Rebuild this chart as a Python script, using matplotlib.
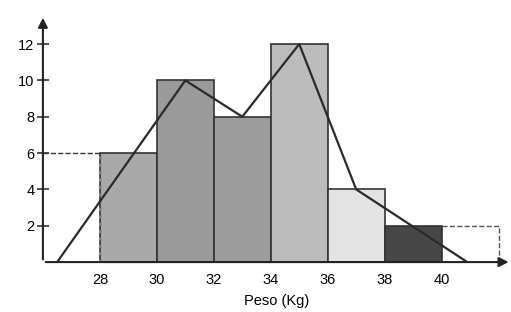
import numpy as np
import matplotlib.pyplot as plt
import matplotlib.patches as patches

plt.rcParams['font.family'] = ['Liberation Sans', 'DejaVu Sans']

# class limits and frequencies
edges = [28, 30, 32, 34, 36, 38, 40]
freq = [6, 10, 8, 12, 4, 2]
bar_colors = ['#a9a9a9', '#9a9a9a', '#9c9c9c', '#bcbcbc', '#e3e3e3', '#474747']
tick_labels = ['28', '30', '32', '34', '36', '38', '40']

# frequency polygon vertices
poly_x = [26.5, 31, 33, 35, 37, 40.9]
poly_y = [0, 10, 8, 12, 4, 0]

fig = plt.figure(figsize=(5.11, 3.12), dpi=100)
ax = fig.add_axes([0.084, 0.16, 0.914, 0.792])
ax.set_xlim(26, 42.4)
ax.set_ylim(0, 13.6)

for s in ax.spines.values():
    s.set_visible(False)

# bars
for i in range(len(freq)):
    ax.bar(edges[i], freq[i], width=edges[i + 1] - edges[i], align='edge',
           color=bar_colors[i], edgecolor='#333333', linewidth=1.2, zorder=2)

# dotted left edge of first bar
ax.plot([28, 28], [0, 6], color='#888888', linestyle=':', linewidth=2, zorder=3)
# dashed guide from y axis to first bar
ax.plot([26, 28], [6, 6], color='#333333', linestyle='--', linewidth=1, zorder=3)
# dashed empty class at the right
ax.plot([40, 42, 42], [2, 2, 0], color='#555555', linestyle='--', linewidth=1, zorder=3)

# polygon
ax.plot(poly_x, poly_y, color='#2a2a2a', linewidth=1.6, zorder=4)

# axes with arrows
ax.annotate('', xy=(26, 13.6), xytext=(26, 0), annotation_clip=False,
            arrowprops=dict(arrowstyle='-|>', color='#222222', lw=1.5, mutation_scale=14))
ax.annotate('', xy=(42.45, 0), xytext=(26, 0), annotation_clip=False,
            arrowprops=dict(arrowstyle='-|>', color='#222222', lw=1.5, mutation_scale=14))

ax.set_yticks([2, 4, 6, 8, 10, 12])
ax.tick_params(axis='y', length=8, width=1.3, direction='inout', color='#444444',
               labelsize=10.5, pad=2)
ax.set_xticks(edges)
ax.set_xticklabels(tick_labels)
ax.tick_params(axis='x', length=0, labelsize=10.5, pad=8)
ax.set_xlabel('Peso (Kg)', fontsize=10.5, labelpad=5)

fig.savefig('out.png', dpi=100)
